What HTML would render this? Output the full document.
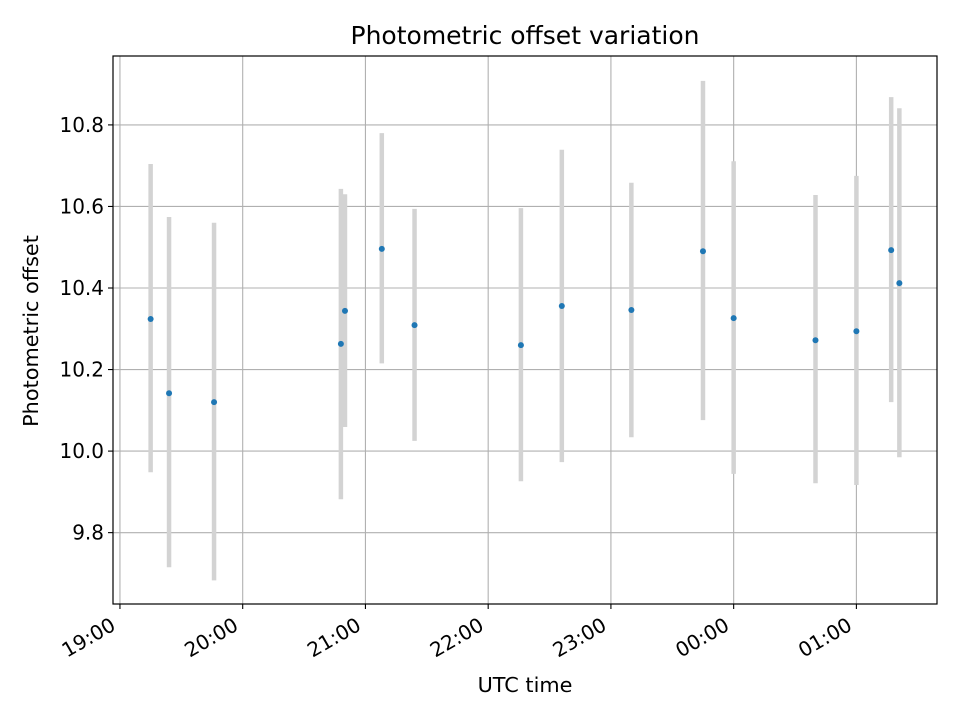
<!DOCTYPE html>
<html><head><meta charset="utf-8"><style>
body{margin:0;background:#fff}
svg text{font-family:"DejaVu Sans","Liberation Sans",sans-serif;fill:#000}
</style></head><body>
<svg id="chart" width="960" height="720" xmlns="http://www.w3.org/2000/svg">
<rect width="960" height="720" fill="#fff"/>
<g id="grid"></g>
<g id="bars"></g>
<g id="pts"></g>
<rect x="113" y="56" width="824" height="548" fill="none" stroke="#000" stroke-width="1.2"/>
<g id="ticks"></g>
<text x="525" y="44" font-size="25" text-anchor="middle">Photometric offset variation</text>
<text x="525" y="692" font-size="20.8" text-anchor="middle">UTC time</text>
<text transform="translate(38,331) rotate(-90)" font-size="20.8" text-anchor="middle">Photometric offset</text>
</svg>
<script>
const times = [15, 24, 46, 108, 110, 128, 144, 196, 216, 250, 285, 300, 340, 360, 377, 381]; // minutes after 19:00
const values = [10.324, 10.142, 10.120, 10.263, 10.344, 10.496, 10.309, 10.260, 10.356, 10.346, 10.490, 10.326, 10.272, 10.294, 10.493, 10.412];
const errHigh = [10.704, 10.574, 10.560, 10.643, 10.630, 10.780, 10.594, 10.596, 10.739, 10.658, 10.908, 10.711, 10.628, 10.675, 10.868, 10.841];
const errLow = [9.948, 9.715, 9.683, 9.882, 10.059, 10.215, 10.025, 9.926, 9.973, 10.034, 10.076, 9.944, 9.921, 9.917, 10.120, 9.985];
const xTickMinutes = [0, 60, 120, 180, 240, 300, 360];
const xTickLabels = ["19:00", "20:00", "21:00", "22:00", "23:00", "00:00", "01:00"];
const yTicks = [9.8, 10.0, 10.2, 10.4, 10.6, 10.8];
const yTickLabels = ["9.8", "10.0", "10.2", "10.4", "10.6", "10.8"];

const X0=113,X1=937,Y0=56,Y1=604;
const xMin=-3.4,xMax=399.4,yMin=9.625,yMax=10.969;
const sx=v=>X0+(v-xMin)/(xMax-xMin)*(X1-X0);
const sy=v=>Y1-(v-yMin)/(yMax-yMin)*(Y1-Y0);
const NS="http://www.w3.org/2000/svg";
function mk(tag,attrs,parent){const e=document.createElementNS(NS,tag);for(const k in attrs)e.setAttribute(k,attrs[k]);document.getElementById(parent).appendChild(e);return e;}

xTickMinutes.forEach((m,i)=>{
  const x=sx(m);
  const g=mk('line',{x1:x,x2:x,y1:Y0,y2:Y1,stroke:'#b0b0b0','stroke-width':1.1},'grid');
  
  
  const t=mk('line',{x1:x,x2:x,y1:Y1,y2:Y1+5,stroke:'#000','stroke-width':1.1},'ticks');
  
  
  const l=mk('text',{x:0,y:0,'font-size':20,'text-anchor':'end',transform:`translate(${x-3},${Y1+25}) rotate(-30)`},'ticks');
  l.textContent=xTickLabels[i];
  
  
});
yTicks.forEach((v,i)=>{
  const y=sy(v);
  const g=mk('line',{x1:X0,x2:X1,y1:y,y2:y,stroke:'#b0b0b0','stroke-width':1.1},'grid');
  
  
  const t=mk('line',{x1:X0-5,x2:X0,y1:y,y2:y,stroke:'#000','stroke-width':1.1},'ticks');
  
  
  const l=mk('text',{x:X0-9,y:y+7,'font-size':20,'text-anchor':'end'},'ticks');
  l.textContent=yTickLabels[i];
  
  
});
times.forEach((m,i)=>{
  const x=sx(m);
  const b=mk('line',{x1:x,x2:x,y1:sy(errHigh[i]),y2:sy(errLow[i]),stroke:'#d3d3d3','stroke-width':4.5},'bars');
  
  
  const p=mk('circle',{cx:x,cy:sy(values[i]),r:3,fill:'#1f77b4'},'pts');
  
  
});
</script>
</body></html>
